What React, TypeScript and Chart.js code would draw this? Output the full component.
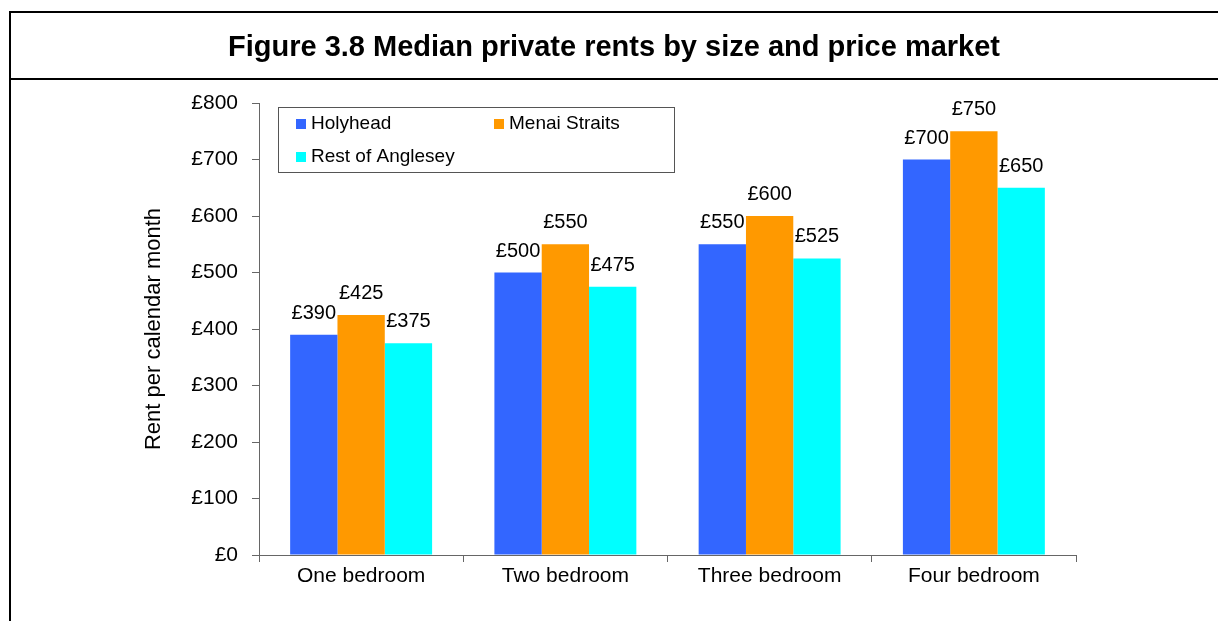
import React, { useEffect, useRef } from "react";
import { Chart, registerables } from "chart.js";

Chart.register(...registerables);

const FIGURE_TITLE = "Figure 3.8 Median private rents by size and price market";
const Y_TITLE = "Rent per calendar month";
const categories = ["One bedroom", "Two bedroom", "Three bedroom", "Four bedroom"];
const seriesNames = ["Holyhead", "Menai Straits", "Rest of Anglesey"];
const holyhead = [390, 500, 550, 700];
const menaiStraits = [425, 550, 600, 750];
const restOfAnglesey = [375, 475, 525, 650];
const seriesColors = ["#3366FF", "#FF9900", "#00FFFF"];
const yTickValues = [0, 100, 200, 300, 400, 500, 600, 700, 800];

const FONT = "'Liberation Sans', Arial, Helvetica, sans-serif";

const framePlugin = {
  id: "frame",
  beforeDraw(chart: any) {
    const ctx = chart.ctx;
    ctx.save();
    ctx.fillStyle = "#ffffff";
    ctx.fillRect(0, 0, chart.width, chart.height);
    ctx.fillStyle = "#000000";
    ctx.fillRect(9, 11, chart.width - 9, 2);
    ctx.fillRect(9, 78, chart.width - 9, 2);
    ctx.fillRect(9, 11, 2, chart.height - 11);
    ctx.font = `bold 29px ${FONT}`;
    ctx.textAlign = "center";
    ctx.textBaseline = "alphabetic";
    ctx.fillText(FIGURE_TITLE, 614, 56);
    ctx.restore();
  },
};

const dataLabelPlugin = {
  id: "dataLabels",
  afterDatasetsDraw(chart: any) {
    const ctx = chart.ctx;
    ctx.save();
    ctx.font = `20px ${FONT}`;
    ctx.fillStyle = "#000000";
    ctx.textAlign = "center";
    ctx.textBaseline = "alphabetic";
    chart.data.datasets.forEach((ds: any, i: number) => {
      const meta = chart.getDatasetMeta(i);
      meta.data.forEach((el: any, j: number) => {
        ctx.fillText("£" + ds.data[j], el.x, el.y - 16);
      });
    });
    ctx.restore();
  },
};

const legendPlugin = {
  id: "boxLegend",
  afterDraw(chart: any) {
    const ctx = chart.ctx;
    ctx.save();
    ctx.fillStyle = "#ffffff";
    ctx.fillRect(278.5, 107.5, 396, 65);
    ctx.strokeStyle = "#555555";
    ctx.lineWidth = 1;
    ctx.strokeRect(278.5, 107.5, 396, 65);
    const spots = [
      { x: 296, y: 124 },
      { x: 494, y: 124 },
      { x: 296, y: 157 },
    ];
    ctx.font = `19px ${FONT}`;
    ctx.textAlign = "left";
    ctx.textBaseline = "middle";
    chart.data.datasets.forEach((ds: any, i: number) => {
      const p = spots[i];
      ctx.fillStyle = ds.backgroundColor;
      ctx.fillRect(p.x, p.y - 5, 10, 10);
      ctx.fillStyle = "#000000";
      ctx.fillText(ds.label, p.x + 15, p.y);
    });
    ctx.restore();
  },
};

export default function App() {
  const ref = useRef<HTMLCanvasElement>(null);

  useEffect(() => {
    if (!ref.current) return;
    const seriesValues = [holyhead, menaiStraits, restOfAnglesey];
    const chart = new Chart(ref.current, {
      type: "bar",
      data: {
        labels: categories,
        datasets: seriesNames.map((name, i) => ({
          label: name,
          data: seriesValues[i],
          backgroundColor: seriesColors[i],
          borderWidth: 0,
          categoryPercentage: 0.695,
          barPercentage: 1.0,
        })),
      },
      options: {
        responsive: false,
        animation: false,
        layout: { padding: { top: 103, left: 0, right: 142, bottom: 26 } },
        plugins: {
          legend: { display: false },
          title: { display: false },
          tooltip: { enabled: false },
        },
        scales: {
          x: {
            grid: {
              display: true,
              drawOnChartArea: false,
              drawTicks: true,
              tickLength: 7,
              color: "#666666",
              offset: true,
            },
            border: { display: true, color: "#666666", width: 1 },
            ticks: {
              color: "#000000",
              padding: 2,
              font: { family: FONT, size: 21 },
              maxRotation: 0,
            },
            afterFit(scale: any) {
              scale.height = 40;
            },
          },
          y: {
            min: 0,
            max: 800,
            afterBuildTicks(scale: any) {
              scale.ticks = yTickValues.map((v) => ({ value: v }));
            },
            grid: {
              display: true,
              drawOnChartArea: false,
              drawTicks: true,
              tickLength: 7,
              color: "#666666",
            },
            border: { display: true, color: "#666666", width: 1 },
            ticks: {
              color: "#000000",
              padding: 14,
              font: { family: FONT, size: 21 },
              callback: (v: any) => "£" + v,
            },
            title: {
              display: true,
              text: Y_TITLE,
              color: "#000000",
              font: { family: FONT, size: 22 },
              padding: { top: 141, bottom: 0 },
            },
            afterFit(scale: any) {
              scale.width = 259;
            },
          },
        },
      },
      plugins: [framePlugin, dataLabelPlugin, legendPlugin],
    });
    return () => chart.destroy();
  }, []);

  return (
    <div style={{ position: "absolute", left: 0, top: 0, width: 1218, height: 621 }}>
      <canvas ref={ref} width={1218} height={621} style={{ display: "block" }} />
    </div>
  );
}
